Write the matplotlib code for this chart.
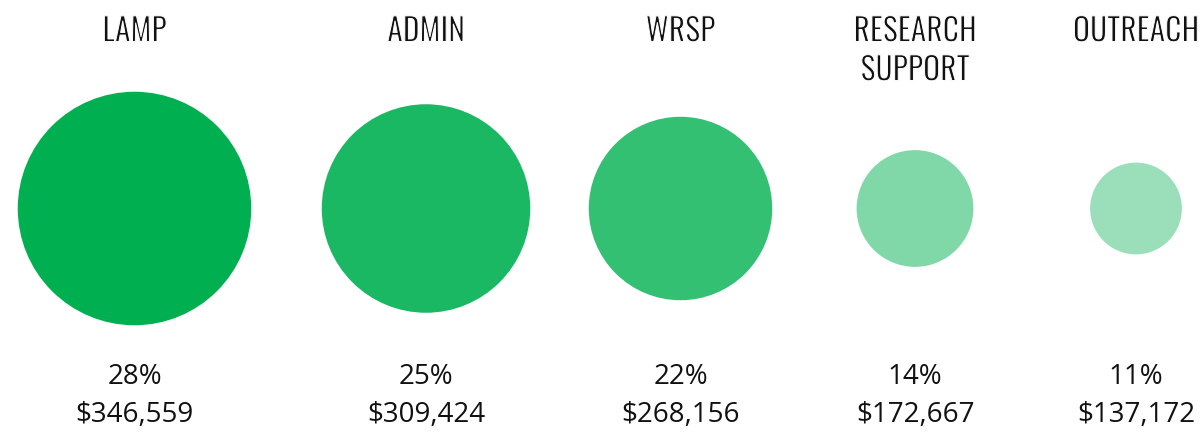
import matplotlib
matplotlib.use("Agg")
import matplotlib.pyplot as plt
import matplotlib.patheffects as pe
from matplotlib.patches import Circle
from matplotlib import font_manager

# ---- data ----
categories = ["LAMP", "ADMIN", "WRSP", "RESEARCH\nSUPPORT", "OUTREACH"]
percents = [28, 25, 22, 14, 11]
amounts = [346559, 309424, 268156, 172667, 137172]
colors = ["#00B050", "#1AB862", "#33C073", "#80D8A8", "#9ADFBA"]

# ---- layout ----
W, H = 1203, 432
centers_x = [134.5, 426, 680.5, 915, 1136]
center_y = 208.5
px_per_pct = 4.17

fl = font_manager.fontManager.ttflist


def pick_file(cands):
    for name, weight in cands:
        hits = [f for f in fl if f.name == name and "Italic" not in f.fname]
        if not hits:
            continue
        hits.sort(key=lambda f: abs(int(f.weight) - weight) if str(f.weight).isdigit() else 999)
        return font_manager.FontProperties(fname=hits[0].fname)
    return None


head_fp = pick_file([("Oswald Light", 300), ("Oswald", 300),
                     ("Barlow Condensed", 300), ("Asap Condensed", 300)])
if head_fp is None:
    head_fp = font_manager.FontProperties(family="DejaVu Sans", stretch="condensed")
head_fp.set_size(22.8)

body_fp = pick_file([("Selawik", 350), ("Segoe UI", 400), ("Open Sans", 400)])
if body_fp is None:
    body_fp = font_manager.FontProperties(family="DejaVu Sans")
body_fp.set_size(20)

# thin the (regular-weight) heading glyphs towards a light weight
thin = [pe.Stroke(linewidth=0.7, foreground="white")]

fig = plt.figure(figsize=(W / 100, H / 100), dpi=100)
ax = fig.add_axes([0, 0, 1, 1])
ax.set_xlim(0, W)
ax.set_ylim(H, 0)
ax.axis("off")

for cx, cat, pct, amt, col in zip(centers_x, categories, percents, amounts, colors):
    ax.add_patch(Circle((cx, center_y), pct * px_per_pct, facecolor=col,
                        edgecolor="none"))
    lines = cat.split("\n")
    for i, line in enumerate(lines):
        ax.text(cx, 41.5 + 39 * i, line, ha="center", va="baseline",
                color="#111111", fontproperties=head_fp, path_effects=thin)
    ax.text(cx, 384.3, f"{pct}%", ha="center", va="baseline",
            fontproperties=body_fp, color="#111111")
    ax.text(cx, 422.3, f"${amt:,}", ha="center", va="baseline",
            fontproperties=body_fp, color="#111111")

fig.savefig("out.png", dpi=100)
